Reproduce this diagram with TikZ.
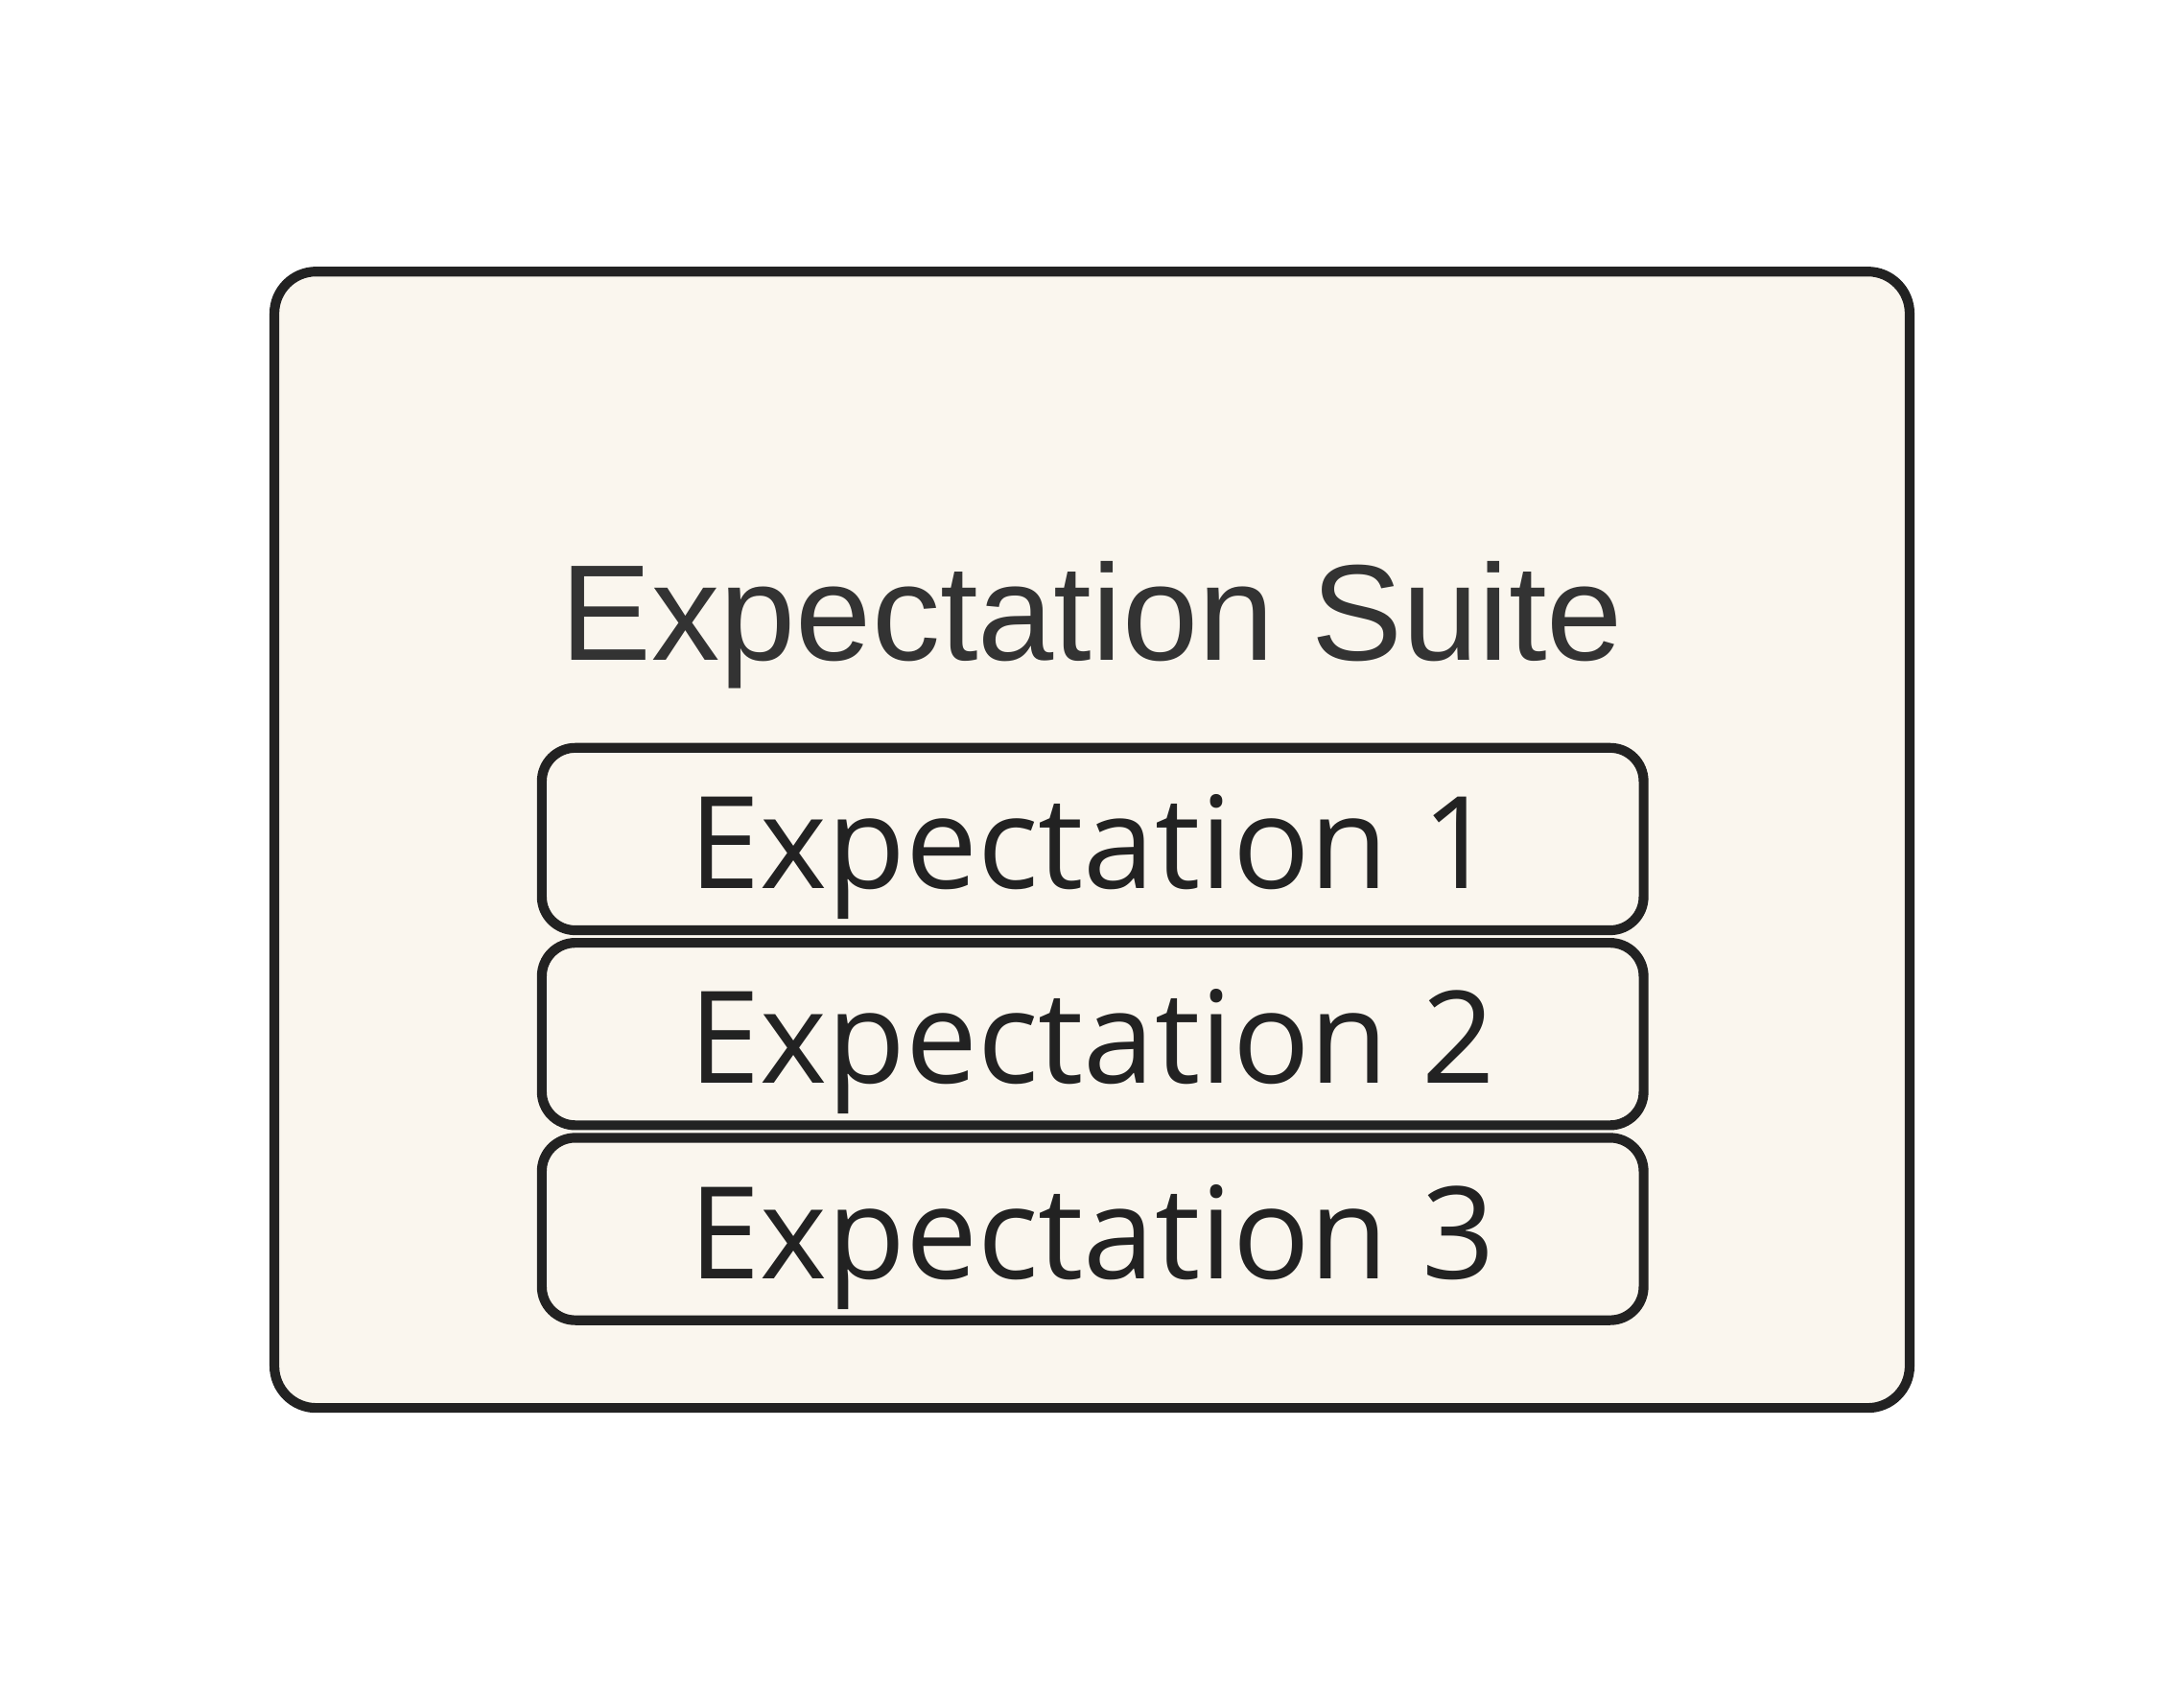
\documentclass[tikz,border=0pt]{standalone}
\usepackage{fontspec}
\setmainfont{Liberation Sans}
\newfontfamily\opensans{Open Sans}
\definecolor{bgfill}{HTML}{FAF6EE}
\definecolor{edge}{HTML}{222222}
\definecolor{titlec}{HTML}{333333}
\tikzset{
  suitebox/.style={draw=edge, line width=7pt, fill=bgfill, rounded corners=30pt},
  expbox/.style={draw=edge, line width=7pt, fill=bgfill, rounded corners=24pt, minimum width=791pt, minimum height=131pt, inner sep=0pt},
}
\begin{document}
\begin{tikzpicture}[x=1pt,y=-1pt]
\useasboundingbox (0,0) rectangle (1568,1209);
\fill[white] (0,0) rectangle (1568,1209);
\draw[suitebox] (197,195) rectangle (1371,1011);
\node[font=\fontsize{98}{110}\selectfont, text=titlec, anchor=base] (title) at (784,474) {Expectation Suite};
\node[expbox] (e1) at (784.5,602.5) {};
\node[expbox] (e2) at (784.5,742.5) {};
\node[expbox] (e3) at (784.5,882.5) {};
\foreach \n/\y/\t in {e1/638/1, e2/778/2, e3/918/3}
  \node[font=\opensans\fontsize{92}{100}\selectfont, text=edge, anchor=base] (t\n) at (784,\y) {Expectation \t};
\end{tikzpicture}
\end{document}
